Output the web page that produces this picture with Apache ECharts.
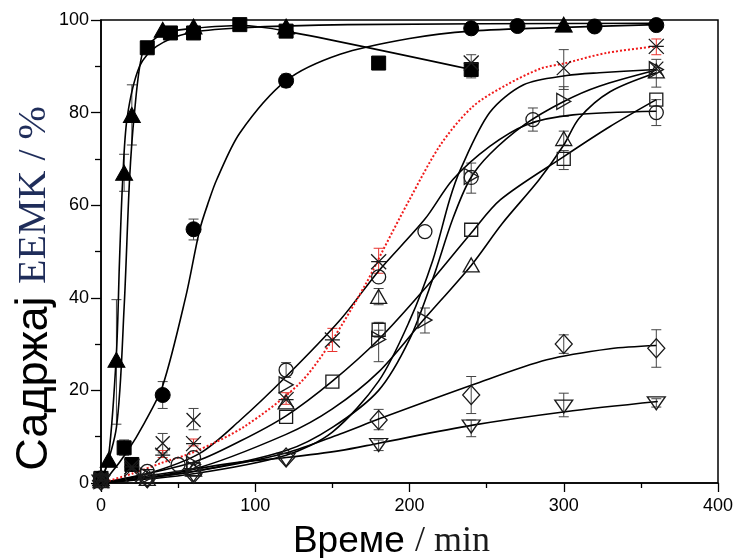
<!DOCTYPE html>
<html>
<head>
<meta charset="utf-8">
<script src="https://cdn.jsdelivr.net/npm/echarts@6/dist/echarts.min.js"></script>
<style>
  html, body { margin: 0; padding: 0; background: #fff; }
  #main { width: 740px; height: 558px; }
</style>
</head>
<body>
<div id="main"></div>
<script>
// measured points [time, value]
var triFilled = [[0, 1], [5, 5], [10, 26.6], [15, 67], [20, 79.5], [40, 97.9], [60, 98.6], [120, 98.6], [300, 99]];
var sqFilled = [[0, 1], [15, 7.6], [20, 4], [30, 94], [45, 97.2], [60, 97.2], [90, 99], [120, 97.6], [180, 90.7], [240, 89.3]];
var circFilled = [[0, 1], [40, 19], [60, 54.8], [120, 86.9], [240, 98.2], [270, 98.7], [320, 98.6], [360, 98.9]];
var crossPts = [[0, 1], [20, 3], [40, 8.6], [60, 13.6], [300, 89.6], [360, 89.5]];
var starPts = [[0, 0.5], [20, 3.5], [40, 6], [60, 8.5], [120, 18], [150, 30.9], [180, 47.8], [240, 90.7], [360, 94.3]];
var circOpen = [[0, 0.5], [20, 1.5], [30, 2.5], [50, 4], [60, 5.5], [120, 24.4], [180, 44.5], [210, 54.3], [240, 66], [280, 78.5], [360, 80]];
var sqOpen = [[0, 0.5], [30, 1.5], [60, 3], [120, 14.3], [150, 21.9], [180, 33.1], [240, 54.7], [300, 70], [360, 82.8]];
var triOpen = [[0, 0.5], [30, 1], [60, 3], [120, 17.5], [180, 40.3], [240, 47.1], [300, 74.4], [360, 89]];
var triRight = [[0, 0.5], [30, 1.5], [60, 4], [120, 21.2], [180, 31], [210, 35.2], [240, 66.2], [300, 82.4], [360, 89.3]];
var diamondPts = [[0, 0.5], [30, 1], [60, 2], [120, 5.5], [180, 13.6], [240, 19], [300, 30], [360, 29.1]];
var triDown = [[0, 0.3], [30, 0.5], [60, 1.7], [120, 5], [180, 8.2], [240, 12.2], [300, 16.5], [360, 17.2]];

// fitted curves
var fitTriFilled = [[0, 0], [5, 6], [10, 28], [12, 48], [14, 65], [17, 79], [25, 90], [36, 94.3], [57, 97.2], [90, 98.3], [160, 99], [360, 99.3]];
var fitSqFilled = [[0, 0], [10, 12], [15, 38], [18.5, 65.5], [21.7, 80], [27, 93], [35, 96], [45, 97.5], [60, 98.2], [90, 98.8], [120, 97.6], [240, 89.3]];
var fitCircFilled = [[0, 0], [5, 1.5], [17, 6.8], [28, 12.9], [40, 21], [55, 40.3], [64, 54.7], [70, 61], [75, 65.5], [90, 75.6], [120, 86.9], [155, 92.6], [200, 96], [240, 97.6], [300, 98.4], [360, 99]];
var fitStar = [[0, 0], [20, 2], [39, 4.3], [61, 6.8], [93, 12.2], [129, 21.6], [150, 30.9], [172, 43.2], [183, 50.4], [200, 61.2], [220, 73], [241, 81.3], [263, 86], [285, 89.5], [300, 90.6], [328, 92.9], [360, 94.3]];
var fitCircOpen = [[0, 0], [30, 2], [64, 6.4], [90, 13.5], [120, 23], [155, 35.2], [180, 45.8], [210, 57], [228, 65.5], [252, 72.7], [276, 77.4], [306, 79.5], [360, 80.3]];
var fitSqOpen = [[0, 0], [60, 4.5], [90, 9], [120, 14.5], [150, 22], [180, 31], [210, 42], [240, 54], [259, 61.2], [300, 70.5], [330, 77], [360, 82.8]];
var fitTriOpen = [[0, 0], [60, 3], [120, 10.5], [150, 16], [180, 24], [209, 35.2], [240, 47], [260, 56], [284, 65.5], [300, 73], [310, 78.8], [330, 84.5], [360, 88.6]];
var fitTriRight = [[0, 0], [60, 2.5], [120, 7], [150, 12], [180, 20], [200, 31], [215, 44], [228, 57], [239, 65.5], [252, 71], [275, 77.5], [300, 82.4], [323, 85.7], [360, 89.2]];
var fitCross = [[0, 0], [60, 2], [120, 6], [150, 11], [180, 22], [200, 35], [215, 48], [226, 61.2], [233, 67.7], [252, 80], [274, 86], [302, 88], [323, 88.6], [360, 89.3]];
var fitDiamond = [[0, 0], [60, 2.5], [120, 6.5], [155, 10.6], [180, 13.8], [241, 21.2], [289, 26.6], [330, 29], [360, 29.7]];
var fitTriDown = [[0, 0], [30, 1.5], [60, 3], [90, 4.5], [120, 5.5], [155, 7], [180, 8.6], [241, 12.5], [301, 15.4], [361, 17.6]];

// error bars [time, low, high]
var errGrey = [
    [10, 12.7, 39.6], [15, 63, 71], [20, 73, 86], [15, 6, 9.3], [40, 16.1, 21.9], [60, 52.5, 57], [120, 85.5, 88.3],
    [60, 11.5, 16.1], [40, 6.5, 10.7], [300, 85, 93.6], [240, 87.5, 92.5], [120, 22.8, 26],
    [280, 76, 81], [360, 77.2, 82.8], [240, 62.6, 69.1], [300, 79.2, 85.6], [300, 73, 76], [300, 67.7, 71.8],
    [360, 85.5, 91.5], [210, 32.4, 37.8], [180, 38.5, 42], [180, 31.5, 34.7], [180, 26.2, 33],
    [240, 15, 23], [360, 25, 33.1], [300, 28, 32], [180, 11.5, 15.9], [240, 10, 13.6], [300, 14.3, 19.4],
    [360, 16.4, 18.2], [180, 7, 9.3]
];
var errRed = [[20, 3, 4.5], [40, 5.5, 7], [60, 8, 9.5], [120, 17, 19.5], [150, 28.4, 33.4], [180, 45.3, 50.7], [360, 92.5, 95.9]];

var xTicks = { min: 0, max: 400, interval: 100 };
var yTicks = { min: 0, max: 100, interval: 20 };

var myChart = echarts.init(document.getElementById('main'));

var sans = '"Liberation Sans", Arial, sans-serif';
var serif = '"Liberation Serif", "Times New Roman", serif';

function errSeries(data, color) {
    return {
        type: 'custom',
        data: data,
        z: 1,
        silent: true,
        encode: { x: 0, y: [1, 2] },
        renderItem: function(params, api) {
            var lo = api.coord([api.value(0), api.value(1)]);
            var hi = api.coord([api.value(0), api.value(2)]);
            var w = 5;
            var st = { stroke: color, lineWidth: 1 };
            return {
                type: 'group',
                children: [
                    { type: 'line', shape: { x1: lo[0], y1: lo[1], x2: hi[0], y2: hi[1] }, style: st },
                    { type: 'line', shape: { x1: lo[0] - w, y1: lo[1], x2: lo[0] + w, y2: lo[1] }, style: st },
                    { type: 'line', shape: { x1: hi[0] - w, y1: hi[1], x2: hi[0] + w, y2: hi[1] }, style: st }
                ]
            };
        }
    };
}

function curve(data, color, type, width) {
    return {
        type: 'line',
        data: data,
        showSymbol: false,
        smooth: 0.3,
        z: 2,
        silent: true,
        lineStyle: { color: color, width: width || 1.6, type: type || 'solid' }
    };
}

function marks(data, symbol, size, filled, rotate) {
    return {
        type: 'scatter',
        data: data,
        symbol: symbol,
        symbolSize: size,
        symbolRotate: rotate || 0,
        z: 3,
        itemStyle: filled
            ? { color: '#000', borderColor: '#000', borderWidth: 1, opacity: 1 }
            : { color: 'rgba(0,0,0,0)', borderColor: '#1a1a1a', borderWidth: 1.3, opacity: 1 }
    };
}

var option = {
    animation: false,
    backgroundColor: '#fff',
    grid: {
        left: 101, right: 22, top: 20, bottom: 75,
        outerBoundsMode: 'none',
        show: true, borderColor: '#000', borderWidth: 1.5
    },
    xAxis: {
        type: 'value',
        min: xTicks.min, max: xTicks.max, interval: xTicks.interval,
        name: '{a|Време }{b|/ min}',
        nameLocation: 'middle',
        nameGap: 40,
        nameTextStyle: {
            padding: [0, 36, 0, 0],
            rich: {
                a: { fontFamily: sans, fontSize: 37, color: '#000' },
                b: { fontFamily: serif, fontSize: 36, color: '#1a1a1a' }
            }
        },
        axisLine: { lineStyle: { color: '#000', width: 1.5 } },
        axisTick: { length: 9, lineStyle: { color: '#000', width: 1.3 } },
        minorTick: { show: true, splitNumber: 2, length: 5, lineStyle: { color: '#000', width: 1.3 } },
        axisLabel: { fontFamily: sans, fontSize: 18, color: '#000', margin: 14 },
        splitLine: { show: false }
    },
    yAxis: {
        type: 'value',
        min: yTicks.min, max: yTicks.max, interval: yTicks.interval,
        name: '{a|Садржај }{b|EEMK / %}',
        nameLocation: 'middle',
        nameRotate: 90,
        nameGap: 44,
        nameMoveOverlap: false,
        nameTextStyle: {
            padding: [0, 74, 0, 0],
            rich: {
                a: { fontFamily: sans, fontSize: 45, color: '#000' },
                b: { fontFamily: serif, fontSize: 40, color: '#1f2d5a' }
            }
        },
        axisLine: { lineStyle: { color: '#000', width: 1.5 } },
        axisTick: { length: 10, lineStyle: { color: '#000', width: 1.3 } },
        minorTick: { show: true, splitNumber: 2, length: 6, lineStyle: { color: '#000', width: 1.3 } },
        axisLabel: { fontFamily: sans, fontSize: 18, color: '#000', margin: 12 },
        splitLine: { show: false }
    },
    series: [
        errSeries(errGrey, '#444'),
        errSeries(errRed, '#e8332e'),
        curve(fitTriFilled, '#000'),
        curve(fitSqFilled, '#000'),
        curve(fitCircFilled, '#000'),
        curve(fitCircOpen, '#000'),
        curve(fitSqOpen, '#000'),
        curve(fitTriOpen, '#000'),
        curve(fitTriRight, '#000'),
        curve(fitCross, '#000'),
        curve(fitDiamond, '#000'),
        curve(fitTriDown, '#000'),
        curve(fitStar, '#f01a1a', 'dotted', 2),
        marks(triFilled, 'triangle', [17, 15], true),
        marks(sqFilled, 'rect', 14, true),
        marks(circFilled, 'circle', 15, true),
        marks(crossPts, 'path://M0,0L10,10M10,0L0,10', 14, false),
        marks(starPts, 'path://M0,0L10,10M10,0L0,10M0,5L10,5', 15, false),
        marks(circOpen, 'circle', 14, false),
        marks(sqOpen, 'rect', 13, false),
        marks(triOpen, 'triangle', [16, 14], false),
        marks(triRight, 'triangle', [16, 14], false, -90),
        marks(diamondPts, 'diamond', [17, 19], false),
        marks(triDown, 'triangle', [18, 13], false, 180)
    ]
};

myChart.setOption(option);
</script>
</body>
</html>
